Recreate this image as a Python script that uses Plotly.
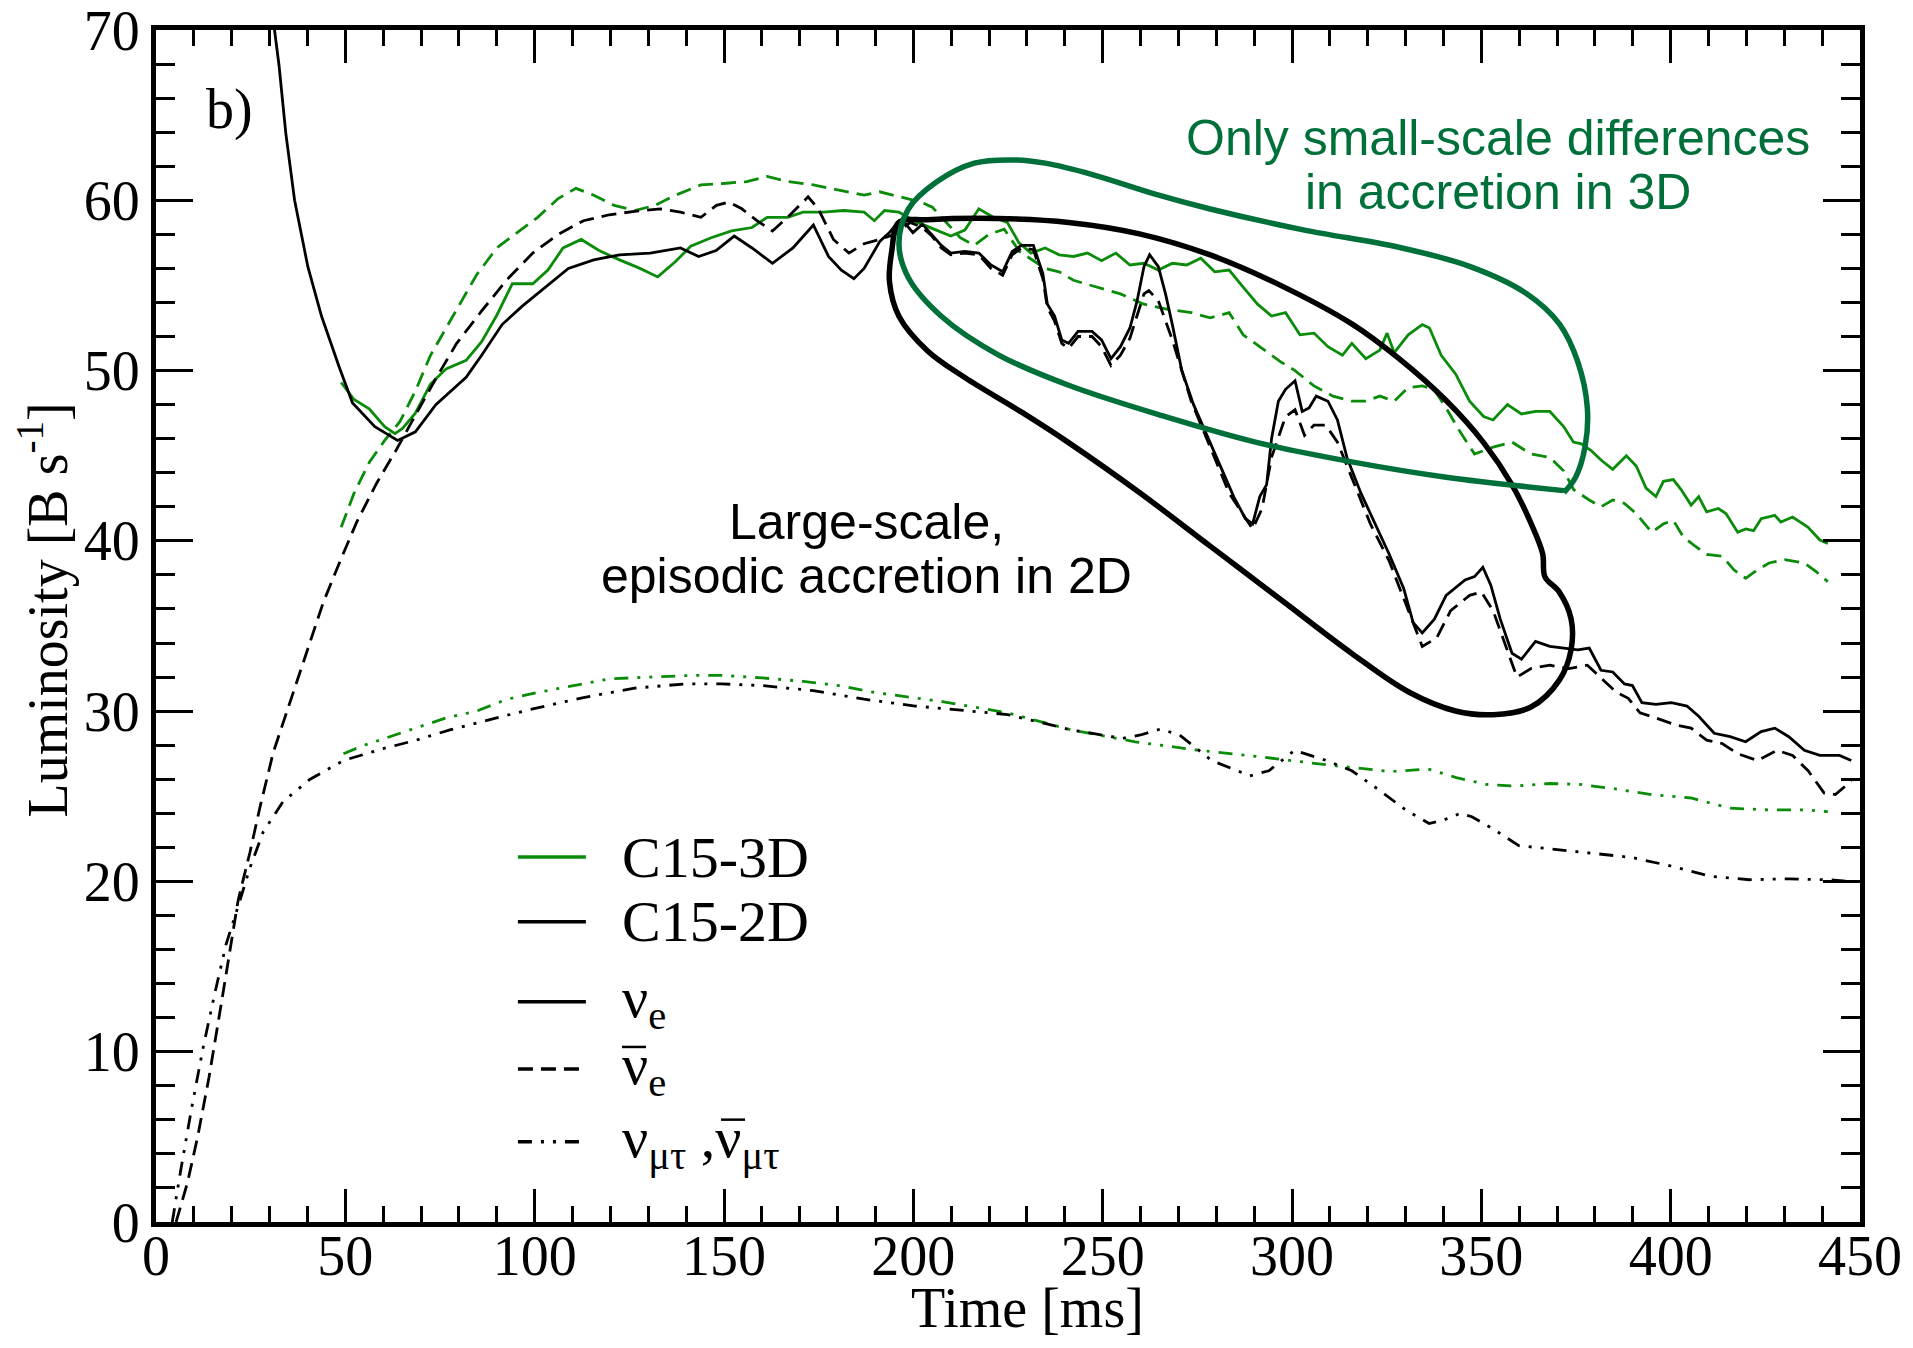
import plotly.graph_objects as go

# ---------------- data ----------------
# 3D model, electron neutrinos (green solid)
t_3d_nue = [48.9, 52.3, 56.3, 60.4, 63.1, 65.1, 68.5, 72.5, 76.6, 81.9, 86.0, 90.0, 94.1, 99.5, 103.5, 107.5,
            112.3, 117.0, 122.4, 127.8, 132.5, 137.2, 141.2, 146.6, 152.0, 157.4, 161.4, 166.8, 170.9, 176.3,
            181.6, 187.0, 189.7, 192.4, 196.2, 201.1, 206.1, 209.9, 213.6, 217.3, 221.1, 224.8, 227.9, 231.1,
            234.8, 238.5, 242.3, 246.0, 249.7, 253.5, 257.2, 260.9, 264.7, 268.4, 272.2, 275.9, 279.6, 283.4,
            287.1, 290.9, 294.6, 298.3, 302.1, 305.8, 309.5, 313.3, 315.8, 319.5, 323.2, 325.1, 327.0, 330.7,
            334.4, 336.3, 339.4, 343.2, 346.9, 350.6, 353.1, 356.9, 360.6, 364.3, 368.1, 371.8, 374.3, 376.4,
            379.0, 381.6, 384.7, 388.3, 390.9, 393.5, 396.1, 398.1, 400.7, 402.8, 405.4, 407.4, 409.5, 412.6,
            414.6, 417.7, 419.8, 421.9, 423.9, 427.5, 429.1, 432.2, 436.3, 439.4, 441.5]
L_3d_nue = [49.3, 48.3, 47.75, 46.7, 46.3, 46.6, 47.5, 49.2, 50.1, 50.6, 51.7, 53.25, 55.1, 55.1, 55.9, 57.2,
            57.7, 57.05, 56.5, 56.0, 55.5, 56.4, 57.3, 57.8, 58.2, 58.4, 59.0, 59.0, 59.3, 59.3,
            59.4, 59.3, 58.8, 59.4, 59.3, 58.7, 58.25, 57.9, 58.25, 59.5, 59.0, 58.7, 57.5, 56.9,
            57.2, 56.8, 56.7, 56.9, 56.45, 56.9, 56.2, 56.3, 55.9, 56.3, 56.2, 56.6, 55.8, 55.9,
            54.9, 53.9, 53.2, 53.4, 52.1, 52.2, 51.4, 50.9, 51.6, 50.7, 51.2, 52.2, 51.05, 52.1,
            52.7, 52.5, 50.9, 49.8, 48.2, 47.3, 47.1, 48.0, 47.45, 47.6, 47.6, 46.7, 45.8, 45.7,
            45.3, 44.75, 44.2, 45.0, 44.4, 43.1, 42.6, 43.5, 43.6, 43.0, 42.1, 42.6, 41.7, 41.9,
            41.6, 40.5, 40.7, 40.6, 41.3, 41.5, 41.1, 41.4, 40.8, 40.05, 39.85]

# 3D model, electron antineutrinos (green dashed)
t_3d_anue = [48.9, 52.3, 56.3, 60.4, 64.4, 68.5, 72.5, 76.6, 80.6, 84.6, 90.0, 95.4, 100.8, 106.2, 110.9,
             115.6, 121.0, 126.4, 131.8, 137.2, 143.9, 150.7, 156.0, 161.4, 166.8, 173.6, 180.3, 187.0,
             191.1, 196.5, 201.9, 205.0, 208.6, 212.4, 216.1, 220.0, 224.0, 228.0, 234.8, 238.5, 242.3,
             248.5, 254.7, 260.9, 267.2, 273.4, 278.4, 283.4, 287.1, 292.1, 297.1, 300.8, 305.8, 310.8,
             315.8, 319.5, 323.2, 327.0, 330.7, 334.4, 337.5, 340.7, 344.4, 348.2, 353.1, 358.1, 363.1,
             368.1, 371.8, 374.4, 378.5, 381.6, 384.7, 387.8, 390.9, 395.0, 398.1, 400.7, 403.3, 406.4,
             409.5, 413.6, 416.7, 419.8, 422.9, 426.0, 430.1, 435.3, 438.4, 441.5]
L_3d_anue = [40.8, 42.8, 44.6, 45.9, 47.0, 48.8, 50.9, 52.5, 54.0, 55.6, 57.2, 58.1, 59.0, 60.1, 60.7,
             60.3, 59.7, 59.4, 59.7, 60.3, 60.9, 61.0, 61.1, 61.4, 61.1, 60.9, 60.6, 60.3,
             60.5, 60.2, 59.9, 59.6, 58.7, 57.8, 57.35, 58.0, 58.3, 57.0, 56.0, 55.8, 55.3,
             54.9, 54.5, 53.9, 53.6, 53.4, 53.1, 53.4, 52.1, 51.3, 50.5, 50.0, 49.1, 48.5,
             48.2, 48.2, 48.5, 48.2, 49.0, 49.1, 48.9, 47.8, 46.4, 45.1, 45.5, 45.8, 45.1,
             44.9, 44.1, 43.0, 42.4, 42.0, 42.4, 42.2, 41.6, 40.5, 41.0, 41.2, 40.25, 39.7,
             39.2, 39.1, 38.3, 37.8, 38.3, 38.7, 38.9, 38.7, 38.2, 37.6]

# 3D model, heavy-lepton neutrinos (green dash-dot-dot)
t_3d_nux = [49.5, 55.0, 63.1, 69.8, 76.6, 84.6, 92.7, 100.8, 110.2, 119.7, 130.5, 141.2, 149.3, 160.1,
            170.9, 180.3, 189.7, 200.5, 208.0, 224.9, 241.7, 258.6, 275.4, 292.2, 309.1, 325.9, 336.0,
            343.4, 351.2, 359.0, 368.0, 376.0, 384.9, 395.0, 405.4, 415.7, 426.0, 435.3, 441.5]
L_3d_nux = [27.5, 28.0, 28.6, 29.1, 29.6, 30.0, 30.7, 31.1, 31.5, 31.9, 32.0, 32.1, 32.1, 31.95,
            31.75, 31.5, 31.1, 30.8, 30.55, 29.9, 28.9, 28.2, 27.7, 27.3, 26.85, 26.45, 26.6,
            26.1, 25.7, 25.6, 25.75, 25.7, 25.45, 25.1, 24.9, 24.3, 24.2, 24.2, 24.1]

# 2D model, electron neutrinos (black solid)
t_2d_nue = [30.5, 31.3, 32.5, 34.3, 36.6, 40.1, 43.7, 48.4, 51.9, 57.8, 63.8, 68.5, 73.9, 77.9, 81.9, 86.0,
            91.4, 96.8, 102.2, 108.9, 115.6, 122.4, 130.5, 138.5, 143.3, 147.9, 152.7, 157.4, 162.8,
            168.2, 173.6, 177.6, 181.0, 184.3, 187.0, 191.2, 193.7, 196.2, 198.0, 199.9, 202.4, 204.9,
            207.4, 209.9, 213.6, 217.3, 220.5, 223.6, 226.1, 228.6, 231.7, 234.2, 235.4, 237.3, 239.2,
            241.0, 243.5, 247.2, 249.7, 252.2, 254.7, 257.2, 259.1, 260.9, 262.4, 264.7, 266.6, 268.4,
            270.9, 274.0, 277.1, 280.9, 284.6, 287.7, 289.6, 291.5, 293.3, 294.6, 296.4, 298.3, 300.8,
            302.7, 304.5, 306.4, 309.5, 312.0, 314.5, 318.2, 322.0, 325.7, 329.5, 332.0, 334.4, 337.6,
            340.7, 345.7, 348.2, 350.4, 352.5, 355.0, 358.1, 360.6, 364.3, 368.1, 371.8, 375.5, 378.5,
            381.6, 384.7, 387.8, 389.9, 392.4, 396.1, 400.2, 404.3, 407.4, 411.5, 415.7, 419.8, 423.9,
            427.5, 431.2, 435.3, 439.4, 444.6, 447.7]
L_2d_nue = [72.0, 70.0, 67.9, 63.9, 60.0, 56.1, 53.2, 50.2, 48.1, 46.7, 45.9, 46.4, 48.0, 48.8, 49.6, 50.9,
            52.7, 53.8, 54.8, 56.0, 56.5, 56.8, 56.9, 57.2, 56.7, 57.05, 57.9, 57.2, 56.3,
            57.2, 58.55, 56.7, 55.9, 55.4, 56.0, 57.6, 58.1, 58.8, 58.6, 58.1, 58.6, 58.0,
            57.35, 56.9, 57.0, 56.9, 56.2, 55.8, 57.0, 57.35, 57.35, 55.7, 53.9, 53.2, 51.8,
            51.6, 52.3, 52.3, 51.8, 50.7, 51.4, 52.5, 54.1, 56.1, 56.8, 56.1, 54.5, 52.7,
            50.0, 48.0, 46.4, 44.4, 42.6, 41.3, 41.0, 42.6, 43.3, 46.0, 48.2, 48.9, 49.4,
            47.6, 47.8, 48.5, 48.2, 47.1, 44.9, 42.8, 41.0, 39.2, 37.2, 35.2, 34.6, 35.4,
            36.8, 37.7, 37.9, 38.45, 37.4, 35.4, 33.4, 33.05, 34.1, 33.8, 33.7, 33.6, 33.7,
            32.4, 32.3, 31.6, 31.5, 30.5, 30.4, 30.5, 30.3, 29.7, 28.7, 28.5, 28.2, 28.8,
            29.0, 28.5, 27.7, 27.4, 27.4, 27.1]

# 2D model, electron antineutrinos (black dashed)
t_2d_anue = [5.3, 8.3, 11.0, 14.0, 17.0, 19.5, 21.7, 24.8, 27.5, 31.0, 35.4, 39.8, 44.2, 48.6, 53.0, 58.3,
             63.6, 68.8, 74.1, 79.4, 86.0, 92.7, 99.5, 106.2, 112.9, 119.7, 126.4, 133.2, 138.5, 143.9,
             148.0, 151.3, 154.7, 158.7, 162.8, 166.8, 172.2, 174.9, 178.9, 183.0, 187.0, 191.1, 195.1,
             199.2, 202.4, 204.9, 207.4, 209.9, 213.6, 217.3, 220.5, 223.6, 226.1, 228.6, 231.7, 234.2,
             235.4, 237.3, 239.2, 241.0, 243.5, 247.2, 249.7, 252.2, 254.7, 257.2, 260.9, 262.2, 264.7,
             268.4, 273.4, 278.4, 283.4, 289.6, 292.1, 294.6, 298.3, 300.8, 303.3, 305.8, 308.9, 312.0,
             315.8, 320.7, 325.7, 330.7, 334.4, 338.2, 341.9, 346.9, 350.0, 353.1, 356.9, 359.4, 363.1,
             368.1, 373.1, 378.0, 381.8, 385.7, 388.8, 391.9, 396.1, 401.2, 405.4, 409.5, 413.6, 417.7,
             422.9, 428.1, 432.2, 436.3, 440.5, 443.5, 447.7]
L_2d_anue = [0.0, 2.3, 5.0, 8.5, 12.5, 15.8, 18.9, 21.7, 24.4, 27.6, 30.5, 33.4, 36.4, 38.8, 41.1, 43.4,
             45.4, 47.5, 49.6, 51.6, 53.5, 55.35, 56.9, 58.0, 58.8, 59.15, 59.35, 59.5, 59.3, 59.0,
             59.7, 59.9, 59.5, 58.8, 58.2, 59.0, 60.2, 59.5, 57.7, 56.9, 57.45, 57.7, 58.0,
             58.7, 58.4, 57.9, 57.2, 56.8, 56.9, 56.8, 56.0, 55.6, 56.8, 57.2, 57.1, 55.4,
             53.7, 52.9, 51.6, 51.3, 52.0, 52.0, 51.4, 50.3, 50.9, 51.9, 54.5, 54.7, 54.1,
             51.8, 48.2, 45.5, 42.8, 40.7, 41.9, 44.9, 47.3, 47.7, 46.2, 46.8, 46.8, 45.8,
             43.7, 41.0, 38.8, 35.9, 33.8, 34.3, 35.9, 36.8, 37.0, 35.9, 33.6, 32.0, 32.5,
             32.7, 32.5, 32.7, 31.9, 31.1, 30.75, 29.9, 29.6, 29.2, 29.0, 28.3, 28.1, 27.5,
             27.1, 27.7, 27.4, 26.5, 25.2, 25.1, 25.9]

# 2D model, heavy-lepton neutrinos (black dash-dot-dot)
t_2d_nux = [4.3, 6.5, 9.5, 12.5, 15.5, 18.5, 22.2, 24.8, 28.3, 33.6, 40.7, 49.5, 60.0, 68.8, 77.6, 86.4,
            98.8, 112.9, 126.4, 139.9, 149.3, 160.1, 173.6, 187.0, 200.5, 208.0, 224.9, 241.7, 255.2,
            260.0, 265.3, 270.3, 278.8, 288.9, 293.9, 300.7, 309.1, 315.8, 322.8, 330.0, 336.2, 340.0,
            344.5, 347.5, 353.7, 359.9, 369.2, 379.5, 389.9, 400.2, 410.5, 420.8, 431.2, 441.5, 447.7]
L_2d_nux = [0.0, 3.0, 6.8, 10.3, 13.4, 16.3, 18.9, 20.8, 22.9, 24.7, 26.0, 27.1, 27.8, 28.3, 28.9, 29.4,
            30.1, 30.8, 31.35, 31.6, 31.6, 31.5, 31.2, 30.7, 30.3, 30.15, 29.8, 28.9, 28.4,
            28.6, 28.95, 28.6, 27.1, 26.2, 26.5, 27.7, 27.1, 26.5, 25.4, 24.2, 23.4, 23.6,
            24.0, 23.8, 23.0, 22.1, 21.9, 21.65, 21.4, 20.9, 20.3, 20.1, 20.15, 20.1, 20.0]

# hand-drawn outlines (annotation loops), in data units
loop3d_t = [371.8, 374.9, 377.4, 378.0, 375.5, 370.6, 361.8, 346.9, 328.2, 303.3, 278.4, 263.4, 247.3,
            234.8, 226.1, 216.1, 206.1, 198.7, 196.2, 198.7, 207.4, 222.3, 241.0, 265.9, 290.9, 315.8,
            340.7, 371.8]
loop3d_L = [42.84, 43.74, 45.54, 47.79, 50.49, 52.74, 54.54, 56.12, 57.24, 58.25, 59.49, 60.39, 61.51,
            62.18, 62.37, 62.18, 61.07, 59.49, 57.47, 55.45, 53.19, 50.94, 49.14, 47.34, 45.77, 44.64,
            43.74, 42.95]

loop2d_t = [366.8, 370.6, 373.7, 373.7, 370.6, 363.1, 353.1, 343.2, 330.7, 315.8, 297.1, 278.4, 259.7,
            241.0, 228.5, 213.6, 203.7, 196.2, 193.7, 194.3, 196.2, 203.7, 222.3, 241.0, 259.7, 278.4,
            297.1, 315.8, 328.2, 340.7, 350.6, 358.1, 363.1, 366.2, 366.8]
loop2d_L = [37.89, 36.99, 35.42, 33.61, 31.82, 30.24, 29.79, 30.01, 31.14, 33.39, 36.54, 39.69, 42.84,
            45.77, 47.57, 49.59, 51.17, 53.19, 55.21, 57.01, 58.70, 58.86, 58.93, 58.70, 58.03, 56.79,
            54.99, 52.74, 50.71, 48.24, 45.77, 43.29, 41.04, 39.24, 37.89]

x_ticks = [0, 50, 100, 150, 200, 250, 300, 350, 400, 450]
y_ticks = [0, 10, 20, 30, 40, 50, 60, 70]

legend_labels = ["C15-3D", "C15-2D", "ν<sub>e</sub>", "ν<sub>e</sub>",
                 "ν<sub>μτ</sub> ,ν<sub>μτ</sub>"]

# ---------------- styles ----------------
GREEN = "#0a8c0a"
LOOPGREEN = "#00703a"
SERIF = "Liberation Serif"
SANS = "Liberation Sans"
DASH = "15px,8px"
DASHDOT = "14px,9px,3px,9px,3px,9px"
LW = 2.8

fig = go.Figure()

def add_line(t, L, color, dash, width=LW, shape="linear"):
    fig.add_trace(go.Scatter(x=t, y=L, mode="lines", showlegend=False, hoverinfo="skip",
                             line=dict(color=color, width=width, dash=dash, shape=shape)))

add_line(t_3d_nux, L_3d_nux, GREEN, DASHDOT)
add_line(t_2d_nux, L_2d_nux, "black", DASHDOT)
add_line(t_3d_anue, L_3d_anue, GREEN, DASH)
add_line(t_3d_nue, L_3d_nue, GREEN, "solid")
add_line(t_2d_anue, L_2d_anue, "black", DASH)
add_line(t_2d_nue, L_2d_nue, "black", "solid")

# loops
add_line(loop2d_t, loop2d_L, "black", "solid", width=5.5, shape="spline")
add_line(loop3d_t, loop3d_L, LOOPGREEN, "solid", width=5.5, shape="spline")

# ---------------- manual legend (paper units of the plot area) ----------------
PW, PH = 1704.0, 1192.0
leg_rows = [0.3062, 0.2519, 0.1848, 0.1284, 0.0674]
leg_colors = [GREEN, "black", "black", "black", "black"]
leg_dash = ["solid", "solid", "solid", "dash", "dashdot2"]
dash_map = {"solid": "solid", "dash": DASH, "dashdot2": DASHDOT}
shapes = []
annotations = []
TXT_X = 0.2723
for yv, col, ds, lab in zip(leg_rows, leg_colors, leg_dash, legend_labels):
    shapes.append(dict(type="line", xref="paper", yref="paper", x0=0.2124, x1=0.2523, y0=yv, y1=yv,
                       line=dict(color=col, width=3.5, dash=dash_map[ds])))
    annotations.append(dict(xref="paper", yref="paper", x=TXT_X, y=yv, xanchor="left", yanchor="middle",
                            text=lab, showarrow=False, font=dict(family=SERIF, size=58, color="black")))

# overbars of the antineutrino symbols
bar_specs = [(TXT_X + 2 / PW, TXT_X + 26 / PW, leg_rows[3] + 22 / PH),
             (TXT_X + 101 / PW, TXT_X + 125 / PW, leg_rows[4] + 22 / PH)]
for x0, x1, yb in bar_specs:
    shapes.append(dict(type="line", xref="paper", yref="paper", x0=x0, x1=x1, y0=yb, y1=yb,
                       line=dict(color="black", width=2.5)))

def ann(x, y, text, family, size, color, angle=0):
    return dict(xref="paper", yref="paper", x=x, y=y, xanchor="center", yanchor="middle",
                text=text, showarrow=False, textangle=angle,
                font=dict(family=family, size=size, color=color))

annotations += [
    ann(0.0429, 0.9329, "b)", SERIF, 56, "black"),
    ann(0.7876, 0.9094, "Only small-scale differences", SANS, 50, LOOPGREEN),
    ann(0.7876, 0.8641, "in accretion in 3D", SANS, 50, LOOPGREEN),
    ann(0.4172, 0.5872, "Large-scale,", SANS, 50, "black"),
    ann(0.4172, 0.5419, "episodic accretion in 2D", SANS, 50, "black"),
    ann(0.5117, -0.0725, "Time [ms]", SERIF, 56, "black"),
    ann(-0.0660, 0.5134, "Luminosity [B s<sup>-1</sup>]", SERIF, 56, "black", angle=-90),
]

axis_common = dict(showgrid=False, zeroline=False, showline=True, linewidth=5, linecolor="black",
                   mirror="allticks", ticks="inside", tickwidth=2.5, tickcolor="black",
                   ticklabeloverflow="allow", automargin=False,
                   tickfont=dict(family=SERIF, size=56, color="black"))

# the page body adds an 8px offset, so the figure is 16px smaller than the window
fig.update_layout(
    template="none",
    width=1897, height=1332,
    margin=dict(l=148, r=45, t=22, b=118),
    paper_bgcolor="white", plot_bgcolor="white",
    showlegend=False,
    xaxis=dict(range=[0, 450], tickvals=x_ticks, ticktext=[str(v) for v in x_ticks], ticklen=33,
               ticklabelstandoff=-19,
               minor=dict(dtick=10, tick0=0, ticklen=16, tickwidth=2.5, tickcolor="black", ticks="inside",
                          showgrid=False),
               **axis_common),
    yaxis=dict(range=[0, 70], tickvals=y_ticks, ticktext=[str(v) for v in y_ticks], ticklen=37,
               minor=dict(dtick=2, tick0=0, ticklen=19, tickwidth=2.5, tickcolor="black", ticks="inside",
                          showgrid=False),
               **axis_common),
    shapes=shapes,
    annotations=annotations,
)

fig.write_html("out.html")
